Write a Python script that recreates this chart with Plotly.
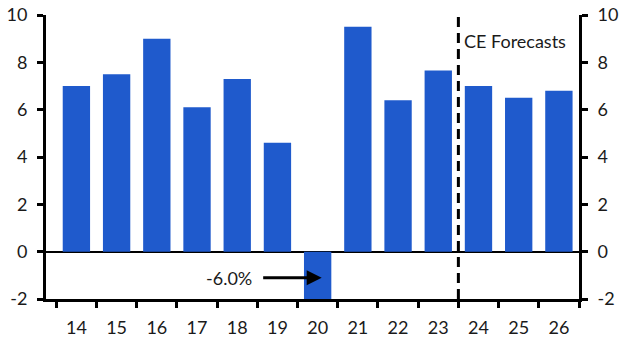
import plotly.graph_objects as go

years = ["14", "15", "16", "17", "18", "19", "20", "21", "22", "23", "24", "25", "26"]
growth = [7.0, 7.5, 9.0, 6.1, 7.3, 4.6, -6.0, 9.5, 6.4, 7.65, 7.0, 6.5, 6.8]
y_ticks = [-2, 0, 2, 4, 6, 8, 10]
y_tick_text = ["-2", "0", "2", "4", "6", "8", "10"]

FONT = "Lato"
TXT = "#1a1a1a"
BLUE = "#1f5acc"

fig = go.Figure()
fig.add_trace(go.Bar(x=years, y=growth, marker=dict(color=BLUE, line=dict(width=0)),
                     width=0.68, showlegend=False, hoverinfo="skip"))
# invisible trace to anchor the right-hand axis
fig.add_trace(go.Scatter(x=[years[0]], y=[0], yaxis="y2", mode="markers",
                         marker=dict(opacity=0), showlegend=False, hoverinfo="skip"))

axis_common = dict(range=[-2, 10], tickvals=y_ticks, ticktext=y_tick_text,
                   showgrid=False, showline=True, automargin=False,
                   linecolor="black", linewidth=3, ticks="outside", ticklen=6,
                   tickwidth=2.5, tickcolor="black", ticklabelstandoff=6,
                   tickfont=dict(family=FONT, size=18, color=TXT))

fig.update_layout(
    width=626, height=338,
    margin=dict(l=46, r=47, t=15, b=39),
    paper_bgcolor="white", plot_bgcolor="white",
    xaxis=dict(type="category", showgrid=False, showline=True, linecolor="black",
               linewidth=3, ticks="outside", ticklen=6, tickwidth=2.5, tickcolor="black",
               tickson="boundaries", automargin=False,
               tickfont=dict(family=FONT, size=18, color=TXT),
               ticklabelstandoff=10),
    yaxis=dict(**axis_common, zeroline=True, zerolinecolor="black", zerolinewidth=2),
    yaxis2=dict(**axis_common, overlaying="y", side="right", zeroline=False),
)

# forecast divider
fig.add_shape(type="line", xref="x", yref="paper", x0=9.5, x1=9.5, y0=0, y1=1.01,
              line=dict(color="black", width=3, dash="10px,6px"))
fig.add_annotation(text="CE Forecasts", xref="x", yref="y", x=9.6, y=8.9,
                   xanchor="left", yanchor="middle", showarrow=False,
                   font=dict(family=FONT, size=18, color=TXT))

# arrow to clipped bar
fig.add_annotation(text="", xref="x", yref="y", x=6.1, y=-1.1, ax=-60, ay=0,
                   showarrow=True, arrowhead=2, arrowsize=1, arrowwidth=3,
                   arrowcolor="black")
fig.add_annotation(text="-6.0%", xref="x", yref="y", x=6.1, y=-1.1,
                   xshift=-68, xanchor="right", yanchor="middle", showarrow=False,
                   font=dict(family=FONT, size=18, color=TXT))

fig.write_html("out.html")
